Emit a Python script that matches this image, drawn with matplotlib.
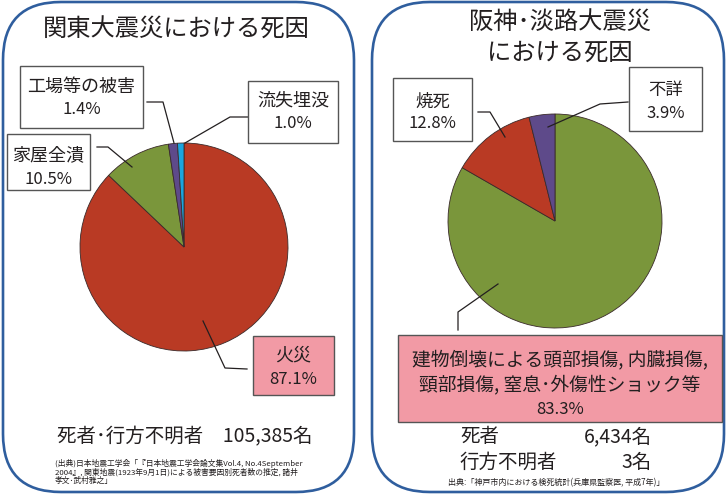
import matplotlib
matplotlib.use("Agg")
import matplotlib.pyplot as plt
from matplotlib.patches import FancyBboxPatch, Rectangle

plt.rcParams['font.family'] = ['Noto Sans CJK JP', 'DejaVu Sans']

W, H = 727, 495

# 関東大震災
kanto_labels = ['火災', '家屋全潰', '工場等の被害', '流失埋没']
kanto_values = [87.1, 10.5, 1.4, 1.0]
kanto_colors = ['#B93A24', '#7A963B', '#5E4A8A', '#1BA5DE']
kanto_total = '死者･行方不明者　105,385名'

# 阪神・淡路大震災
hanshin_labels = ['建物倒壊による頭部損傷, 内臓損傷,\n頸部損傷, 窒息･外傷性ショック等', '焼死', '不詳']
hanshin_values = [83.3, 12.8, 3.9]
hanshin_colors = ['#7A963B', '#B93A24', '#5E4A8A']
hanshin_rows = [('死者', '6,434名'), ('行方不明者', '3名')]

BORDER = '#2F5E9E'
PINK = '#F29AA5'


def Y(y):
    # pixel row -> data y
    return H - y


fig = plt.figure(figsize=(W / 100, H / 100), dpi=100)
ax = fig.add_axes([0, 0, 1, 1])

# panels
for x0, x1 in [(3, 354), (372, 724)]:
    ax.add_patch(FancyBboxPatch((x0, Y(492)), x1 - x0, 490,
                                boxstyle="round,pad=0,rounding_size=58",
                                fc='white', ec=BORDER, lw=1.9))

wp = dict(edgecolor='#3a2a2a', linewidth=0.6)
ax.pie(kanto_values, colors=kanto_colors, startangle=90, counterclock=False,
       center=(184, Y(247)), radius=104, wedgeprops=wp)
ax.pie(hanshin_values, colors=hanshin_colors, startangle=90, counterclock=False,
       center=(555, Y(221)), radius=107, wedgeprops=wp)


def label_box(x0, y0, x1, y1, lines, fc='white', sizes=None):
    ax.add_patch(Rectangle((x0, Y(y1)), x1 - x0, y1 - y0, fc=fc,
                           ec='#555555', lw=1.0, zorder=3))
    cx = (x0 + x1) / 2
    for (txt, yy), fs in zip(lines, sizes):
        ax.text(cx, Y(yy), txt, ha='center', va='center', fontsize=fs,
                color='#231f20', zorder=4)


def leader(pts):
    xs = [p[0] for p in pts]
    ys = [Y(p[1]) for p in pts]
    ax.plot(xs, ys, color='#231f20', lw=0.9, zorder=2.5)


pct = lambda v: f'{v}%'

# left labels
label_box(253, 336, 334, 395, [(kanto_labels[0], 355), (pct(kanto_values[0]), 379)],
          fc=PINK, sizes=[13, 12])
label_box(7, 134, 90, 190, [(kanto_labels[1], 155), (pct(kanto_values[1]), 179)],
          sizes=[13, 12])
label_box(20, 66, 143, 128, [(kanto_labels[2], 87), (pct(kanto_values[2]), 110)],
          sizes=[13, 12])
label_box(248, 81, 338, 143, [(kanto_labels[3], 101), (pct(kanto_values[3]), 124)],
          sizes=[13, 12])
leader([(203, 321), (225, 368), (247, 369)])
leader([(97, 147), (108, 147), (132, 167)])
leader([(147, 102), (163, 102), (174, 143)])
leader([(248, 117), (230, 117), (185, 143)])

# right labels
big = hanshin_labels[0].split('\n')
label_box(398, 335, 722, 422,
          [(big[0], 360), (big[1], 385), (pct(hanshin_values[0]), 410)],
          fc=PINK, sizes=[13.5, 13.5, 12])
label_box(393, 78, 472, 141, [(hanshin_labels[1], 102), (pct(hanshin_values[1]), 123)],
          sizes=[12.5, 12])
label_box(629, 67, 702, 131, [(hanshin_labels[2], 90), (pct(hanshin_values[2]), 113)],
          sizes=[12.5, 12])
leader([(498, 284), (458, 312), (458, 330)])
leader([(478, 112), (490, 112), (505, 137)])
leader([(628, 102), (600, 104), (548, 127)])

# titles
ax.text(176, Y(30), '関東大震災における死因', ha='center', va='center',
        fontsize=17.5, color='#231f20')
ax.text(560, Y(22), '阪神･淡路大震災', ha='center', va='center',
        fontsize=17.5, color='#231f20')
ax.text(560, Y(53), 'における死因', ha='center', va='center',
        fontsize=17.5, color='#231f20')

# totals
ax.text(57, Y(437), kanto_total, ha='left', va='center', fontsize=14,
        color='#231f20')
for (name, num), yy in zip(hanshin_rows, [437, 462]):
    ax.text(460, Y(yy), name, ha='left', va='center', fontsize=14, color='#231f20')
    ax.text(652, Y(yy), num, ha='right', va='center', fontsize=14, color='#231f20')

# sources
ax.text(55, Y(472), '(出典)日本地震工学会「『日本地震工学会論文集Vol.4, No.4September\n'
        '2004』, 関東地震(1923年9月1日)による被害要因別死者数の推定, 諸井\n'
        '孝文･武村雅之」', ha='left', va='center', fontsize=5.6,
        linespacing=1.05, color='#231f20')
ax.text(556, Y(483), '出典:「神戸市内における検死統計(兵庫県監察医, 平成7年)」',
        ha='center', va='center', fontsize=5.8, color='#231f20')

ax.set_xlim(0, W)
ax.set_ylim(0, H)
ax.set_aspect('auto')
ax.axis('off')

fig.savefig('out.png', dpi=100)
